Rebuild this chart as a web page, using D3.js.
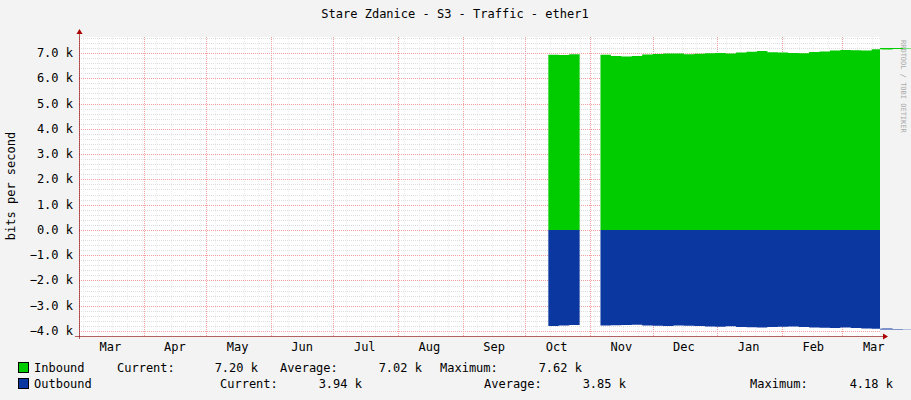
<!DOCTYPE html>
<html><head><meta charset="utf-8">
<script src="https://cdn.jsdelivr.net/npm/d3@7"></script>
<style>body{margin:0;background:#f3f3f3}text{font-family:"DejaVu Sans Mono",monospace}</style>
</head><body><svg id="chart" width="911" height="400"></svg>
<script>
// data (bits per second, thousands), about every 5 days from Oct 12
const startDate = new Date(2019, 9, 12)
const stepDays = 5
const inbound = [6.93, 6.92, 6.95, 7.6, null, 6.93, 6.88, 6.86, 6.88, 6.94, 6.96, 6.98, 6.98,
  6.95, 6.97, 6.99, 7.0, 6.98, 7.02, 7.05, 7.08, 7.03, 7.02, 7.0, 6.99, 7.04, 7.06, 7.1,
  7.12, 7.11, 7.1, 7.15, 7.14, 7.16, 7.18, 7.2, 7.19, 7.22, 7.2, 7.18, 7.16, 7.17, 7.2]
const outbound = [3.8, 3.78, 3.76, 4.18, null, 3.78, 3.77, 3.76, 3.75, 3.78, 3.79, 3.8, 3.78,
  3.79, 3.8, 3.82, 3.83, 3.81, 3.84, 3.85, 3.86, 3.84, 3.83, 3.82, 3.84, 3.86, 3.87, 3.88,
  3.86, 3.88, 3.9, 3.91, 3.9, 3.92, 3.93, 3.91, 3.92, 3.94, 3.93, 3.92, 3.93, 3.94, 3.94]
const monthLabels = ["Mar","Apr","May","Jun","Jul","Aug","Sep","Oct","Nov","Dec","Jan","Feb","Mar"]
const yTicks = [-4, -3, -2, -1, 0, 1, 2, 3, 4, 5, 6, 7]

const svg = d3.select("#chart")
const pLeft = 79, pRight = 880, pTop = 37, pBottom = 336

const x = d3.scaleTime().domain([new Date(2019, 2, 1), new Date(2020, 2, 19)]).range([pLeft, pRight])
const y = d3.scaleLinear().domain([-4, 7]).range([331, 53])

svg.append("rect").attr("x", pLeft).attr("y", pTop).attr("width", pRight - pLeft).attr("height", pBottom - pTop).attr("fill", "#fff")

// minor horizontal grid
d3.range(-4, 7.61, 0.2).forEach(v => {
  svg.append("line").attr("x1", pLeft).attr("x2", pRight).attr("y1", Math.round(y(v)) + 0.5).attr("y2", Math.round(y(v)) + 0.5)
    .attr("stroke", "#ddd").attr("stroke-dasharray", "1,1")
})
// minor vertical grid (weekly)
d3.timeWeek.range(new Date(2019, 2, 1), new Date(2020, 2, 19)).forEach(d => {
  svg.append("line").attr("x1", Math.round(x(d)) + 0.5).attr("x2", Math.round(x(d)) + 0.5).attr("y1", pTop).attr("y2", pBottom)
    .attr("stroke", "#eee").attr("stroke-dasharray", "1,1")
})
// major grid
const months = d3.timeMonth.range(new Date(2019, 2, 1), new Date(2020, 2, 2))
yTicks.forEach(v => {
  svg.append("line").attr("x1", pLeft).attr("x2", pRight).attr("y1", Math.round(y(v)) + 0.5).attr("y2", Math.round(y(v)) + 0.5)
    .attr("stroke", "#f3a0a0").attr("stroke-dasharray", "1,1")
})
months.forEach(d => {
  svg.append("line").attr("x1", Math.round(x(d)) + 0.5).attr("x2", Math.round(x(d)) + 0.5).attr("y1", pTop).attr("y2", pBottom)
    .attr("stroke", "#f3a0a0").attr("stroke-dasharray", "1,1")
})

// series
const dates = inbound.map((_, i) => d3.timeDay.offset(startDate, i * stepDays))
const inData = inbound.map((v, i) => ({ d: dates[i], v }))
const outData = outbound.map((v, i) => ({ d: dates[i], v }))
const endDate = new Date(2020, 2, 19)
inData.push({ d: endDate, v: inbound[inbound.length - 1] })
outData.push({ d: endDate, v: outbound[outbound.length - 1] })

const area = d3.area().defined(p => p.v !== null).curve(d3.curveStepAfter).x(p => x(p.d)).y0(y(0))
svg.append("path").datum(inData).attr("fill", "#00cc00").attr("d", area.y1(p => y(p.v)))
svg.append("path").datum(outData).attr("fill", "#0a37a0").attr("d", area.y1(p => y(-p.v)))

// axes
svg.append("line").attr("x1", pLeft - 4).attr("x2", pRight + 6).attr("y1", 336.5).attr("y2", 336.5).attr("stroke", "#800").attr("stroke-opacity", 0.6)
svg.append("line").attr("x1", pLeft + 0.5).attr("x2", pLeft + 0.5).attr("y1", pTop - 6).attr("y2", pBottom + 3).attr("stroke", "#800").attr("stroke-opacity", 0.6)
svg.append("path").attr("d", `M${pRight + 8},336.5l-5,-3v6z`).attr("fill", "#a00")
svg.append("path").attr("d", `M${pLeft + 0.5},${pTop - 8}l-3,5h6z`).attr("fill", "#a00")

const yAxis = svg.append("g")
yTicks.forEach(v => {
  yAxis.append("text").attr("x", 73).attr("y", y(v) + 4).attr("text-anchor", "end").attr("font-size", 12)
    .attr("fill", "#000").text(d3.format(".1f")(v) + " k")
})
monthLabels.forEach((m, i) => {
  const mid = d3.timeDay.offset(d3.timeMonth.offset(new Date(2019, 2, 1), i), 15)
  svg.append("text").attr("x", x(mid)).attr("y", 351).attr("text-anchor", "middle").attr("font-size", 12).text(m)
})

svg.append("text").attr("x", 455).attr("y", 18).attr("text-anchor", "middle").attr("font-size", 12).text("Stare Zdanice - S3 - Traffic - ether1")
svg.append("text").attr("transform", "translate(15,186) rotate(-90)").attr("text-anchor", "middle").attr("font-size", 12).text("bits per second")
svg.append("text").attr("transform", "translate(901,40) rotate(90)").attr("font-size", 7).attr("fill", "#aaa").text("RRDTOOL / TOBI OETIKER")

// legend
const legend = [
  { y: 372, color: "#00cc00", items: [["Inbound", 34, "start"], ["Current:", 117, "start"], ["7.20 k", 258, "end"], ["Average:", 280, "start"], ["7.02 k", 422, "end"], ["Maximum:", 440, "start"], ["7.62 k", 582, "end"]] },
  { y: 388, color: "#0a37a0", items: [["Outbound", 34, "start"], ["Current:", 220, "start"], ["3.94 k", 362, "end"], ["Average:", 484, "start"], ["3.85 k", 626, "end"], ["Maximum:", 750, "start"], ["4.18 k", 893, "end"]] }
]
legend.forEach(row => {
  svg.append("rect").attr("x", 18.5).attr("y", row.y - 9.5).attr("width", 10).attr("height", 10).attr("fill", row.color).attr("stroke", "#000")
  row.items.forEach(([t, tx, a]) => {
    svg.append("text").attr("x", tx).attr("y", row.y).attr("text-anchor", a).attr("font-size", 12).text(t)
  })
})
</script></body></html>
